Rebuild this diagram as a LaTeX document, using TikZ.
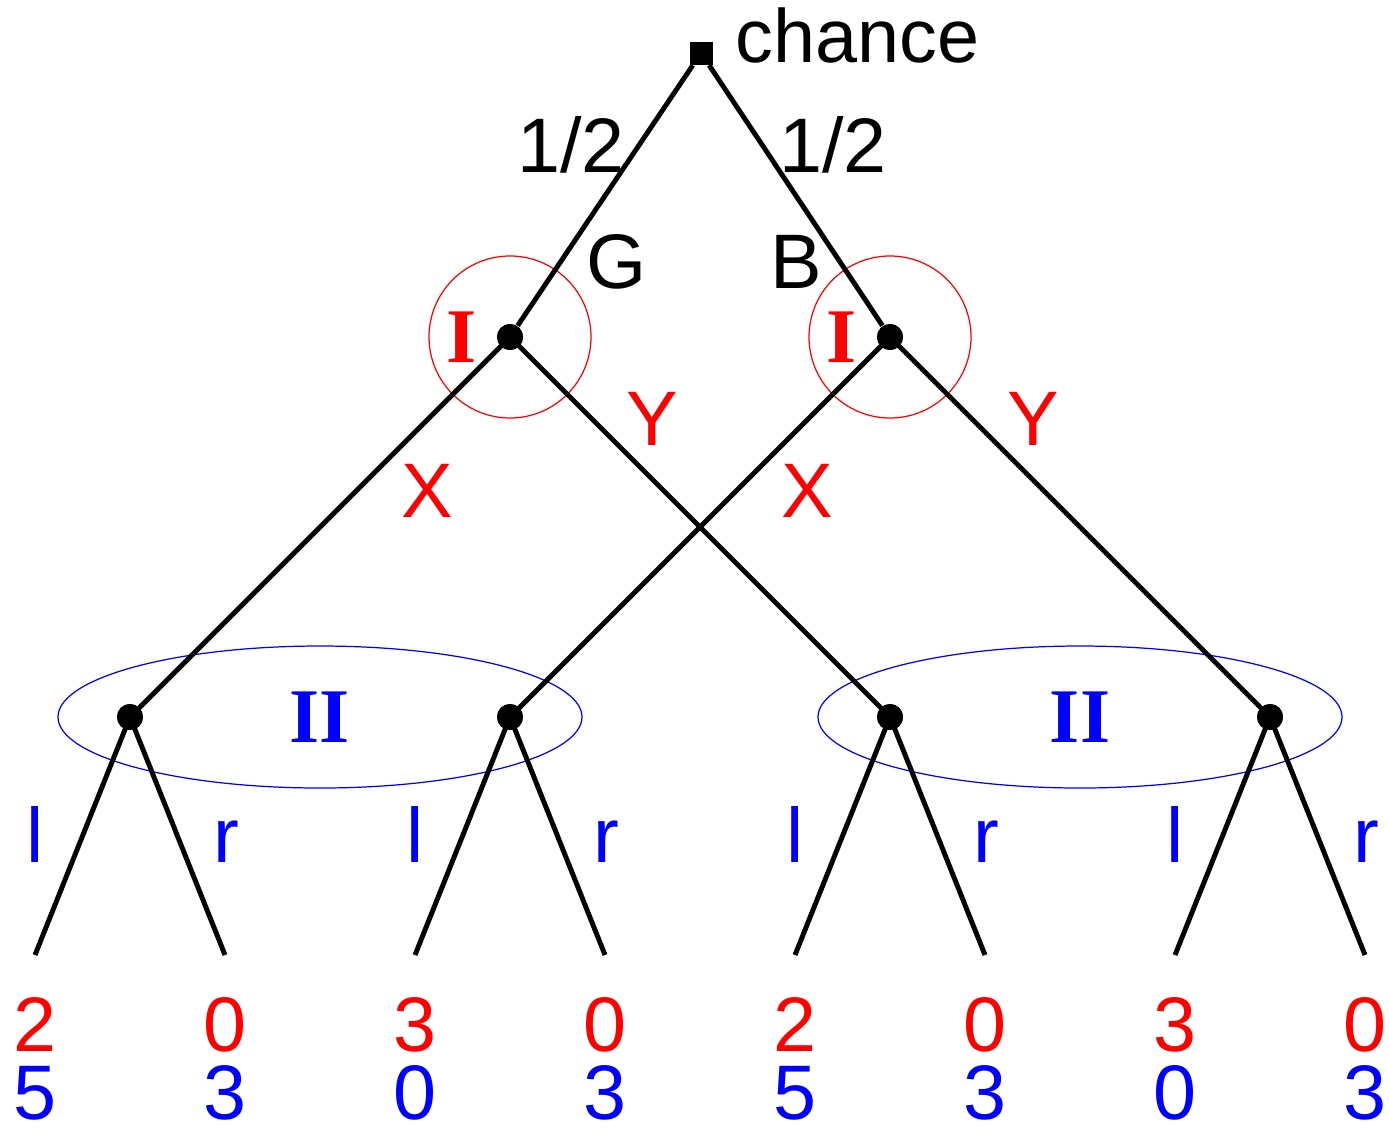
\documentclass[tikz,border=0pt]{standalone}
\usepackage{fontspec}
\setmainfont{Liberation Sans}
\newfontfamily\plfont{Liberation Serif}
\usepackage{xcolor}
\usetikzlibrary{positioning}
\definecolor{PlOne}{RGB}{255,0,0}
\definecolor{PlTwo}{RGB}{0,0,255}
\tikzset{
  move/.style={line width=1.4pt, black},
  decnode/.style={circle, fill=black, inner sep=0pt, minimum size=0.26cm},
  chancebox/.style={rectangle, fill=black, inner sep=0pt, minimum size=0.23cm},
  lab/.style={anchor=base, inner sep=0pt, font=\fontsize{22}{26}\selectfont},
  labone/.style={lab, text=PlOne},
  labtwo/.style={lab, text=PlTwo},
  plname/.style={inner sep=0pt, font=\fontsize{22}{26}\selectfont\plfont\bfseries},
  infoone/.style={draw=PlOne, line width=0.35pt},
  infotwo/.style={draw=PlTwo, line width=0.35pt},
}
\begin{document}
\begin{tikzpicture}
  \useasboundingbox (0,0) rectangle (13.89,-11.28);
  % nodes of the tree
  \node[chancebox] (ch) at (7.01,-0.53) {};
  \node[decnode] (g) at (5.10,-3.37) {};
  \node[decnode] (b) at (8.90,-3.37) {};
  \foreach \i/\x in {1/1.30, 2/5.10, 3/8.90, 4/12.70} {
    \node[decnode] (n\i) at (\x,-7.17) {};
    \coordinate (t\i l) at (\x-0.95,-9.55);
    \coordinate (t\i r) at (\x+0.95,-9.55);
  }
  % information sets
  \draw[infoone] (g) circle (0.81);
  \draw[infoone] (b) circle (0.81);
  \coordinate (hl) at (3.20,-7.17);
  \coordinate (hr) at (10.80,-7.17);
  \draw[infotwo] (hl) ellipse (2.62 and 0.71);
  \draw[infotwo] (hr) ellipse (2.62 and 0.71);
  % moves
  \draw[move] (ch) -- (g);
  \draw[move] (ch) -- (b);
  \draw[move] (g.center) -- (n1.center);
  \draw[move] (g.center) -- (n3.center);
  \draw[move] (b.center) -- (n2.center);
  \draw[move] (b.center) -- (n4.center);
  \foreach \i in {1,2,3,4} {
    \draw[move] (n\i.center) -- (t\i l);
    \draw[move] (n\i.center) -- (t\i r);
  }
  \node[decnode] at (g) {};
  \node[decnode] at (b) {};
  \foreach \i in {1,2,3,4} \node[decnode] at (n\i) {};
  % labels
  \node[lab, anchor=base west, font=\fontsize{21.5}{26}\selectfont] (chl) at (7.35,-0.62) {chance};
  \node[lab] (pg) at (5.71,-1.72) {1/2};
  \node[lab] (pb) at (8.33,-1.72) {1/2};
  \node[lab] (lg) at (6.17,-2.88) {G};
  \node[lab] (lb) at (7.96,-2.88) {B};
  \node[plname, text=PlOne] (pone) at (4.62,-3.37) {I};
  \node[plname, text=PlOne] (ptwo) at (8.42,-3.37) {I};
  \node[labone] (yg) at (6.52,-4.45) {Y};
  \node[labone] (yb) at (10.33,-4.45) {Y};
  \node[labone] (xg) at (4.27,-5.17) {X};
  \node[labone] (xb) at (8.07,-5.17) {X};
  \node[plname, text=PlTwo] (ptl) at (hl) {II};
  \node[plname, text=PlTwo] (ptr) at (hr) {II};
  \foreach \i/\x in {1/1.30, 2/5.10, 3/8.90, 4/12.70} {
    \node[labtwo] (l\i) at (\x-0.95,-8.62) {l};
    \node[labtwo] (r\i) at (\x+0.96,-8.62) {r};
  }
  % payoffs
  \foreach \k/\x/\a/\b in {1/0.35/2/5, 2/2.25/0/3, 3/4.15/3/0, 4/6.05/0/3,
                           5/7.95/2/5, 6/9.85/0/3, 7/11.75/3/0, 8/13.65/0/3} {
    \node[labone] (u\k) at (\x,-10.51) {\a};
    \node[labtwo] (v\k) at (\x,-11.19) {\b};
  }
\end{tikzpicture}
\end{document}
